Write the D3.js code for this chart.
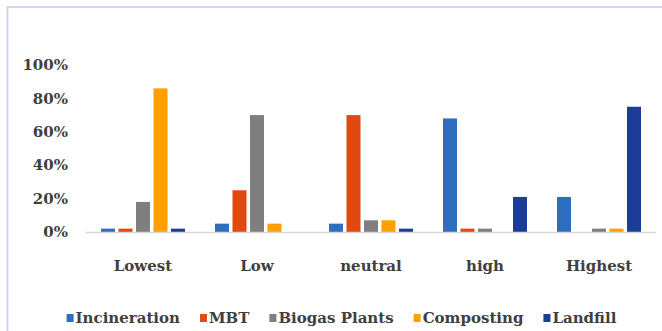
<!DOCTYPE html>
<html>
<head>
<meta charset="utf-8">
<script src="https://d3js.org/d3.v7.min.js"></script>
<style>
  body { margin: 0; background: #fff; }
</style>
</head>
<body>
<div id="svg-area"></div>
<script>
var svgWidth = 662;
var svgHeight = 331;
var fontFam = "'DejaVu Serif', 'Liberation Serif', serif";

// chart data
var categories = ["Lowest", "Low", "neutral", "high", "Highest"];
var seriesNames = ["Incineration", "MBT", "Biogas Plants", "Composting", "Landfill"];
var incineration = [2, 5, 5, 68, 21];
var mbt = [2, 25, 70, 2, 0];
var biogas = [18, 70, 7, 2, 2];
var composting = [86, 5, 7, 0, 2];
var landfill = [2, 0, 2, 21, 75];
var yTicks = [0, 20, 40, 60, 80, 100];

var colors = ["#2E6EBE", "#E04A10", "#7F7F7F", "#FFA000", "#1C3C9C"];
var seriesValues = [incineration, mbt, biogas, composting, landfill];

var svg = d3.select("#svg-area")
  .append("svg")
  .attr("width", svgWidth)
  .attr("height", svgHeight);

// frame (left + top only)
svg.append("path")
  .attr("d", "M7.5," + svgHeight + "V7H" + svgWidth)
  .attr("fill", "none")
  .attr("stroke", "#CACAEA")
  .attr("stroke-width", 1.6);

var xScale = d3.scaleBand()
  .domain(categories)
  .range([86, 656]);

var xInner = d3.scaleBand()
  .domain(seriesNames)
  .range([15, xScale.bandwidth() - 15])
  .paddingInner(0.2);

var yScale = d3.scaleLinear()
  .domain([0, 100])
  .range([232, 65]);

// y tick labels
svg.selectAll(".ytick")
  .data(yTicks)
  .enter()
  .append("text")
  .attr("class", "ytick")
  .attr("x", 68)
  .attr("y", d => yScale(d))
  .attr("dy", "0.35em")
  .attr("text-anchor", "end")
  .attr("font-family", fontFam)
  .attr("font-size", 15)
  .attr("font-weight", "bold")
  .attr("fill", "#404040")
  .text(d => d + "%");

// bars
var groups = svg.selectAll(".grp")
  .data(categories)
  .enter()
  .append("g")
  .attr("transform", d => "translate(" + xScale(d) + ",0)");

groups.selectAll("rect")
  .data((c, i) => seriesNames.map((s, j) => ({ s: s, j: j, v: seriesValues[j][i] })))
  .enter()
  .append("rect")
  .attr("x", d => xInner(d.s))
  .attr("width", xInner.bandwidth())
  .attr("y", d => yScale(d.v))
  .attr("height", d => yScale(0) - yScale(d.v))
  .attr("fill", d => colors[d.j]);

// baseline
svg.append("line")
  .attr("x1", 85).attr("x2", 656)
  .attr("y1", yScale(0) + 0.5).attr("y2", yScale(0) + 0.5)
  .attr("stroke", "#D9D9D9")
  .attr("stroke-width", 1.5);

// category labels
svg.selectAll(".xlab")
  .data(categories)
  .enter()
  .append("text")
  .attr("class", "xlab")
  .attr("x", d => xScale(d) + xScale.bandwidth() / 2)
  .attr("y", 271)
  .attr("text-anchor", "middle")
  .attr("font-family", fontFam)
  .attr("font-size", 15)
  .attr("font-weight", "bold")
  .attr("fill", "#404040")
  .text(d => d);

// legend
var legend = svg.append("g");
var lx = 0;
seriesNames.forEach(function(name, i) {
  var item = legend.append("g").attr("transform", "translate(" + lx + ",0)");
  item.append("rect")
    .attr("x", 0).attr("y", -4)
    .attr("width", 7).attr("height", 8)
    .attr("fill", colors[i]);
  var t = item.append("text")
    .attr("x", 9)
    .attr("dy", "0.35em")
    .attr("font-family", fontFam)
    .attr("font-size", 15)
    .attr("font-weight", "bold")
    .attr("fill", "#404040")
    .text(name);
  lx += 9 + t.node().getComputedTextLength() + 20;
});
var legendWidth = lx - 20;
legend.attr("transform", "translate(" + (341.5 - legendWidth / 2) + ",318)");
</script>
</body>
</html>
